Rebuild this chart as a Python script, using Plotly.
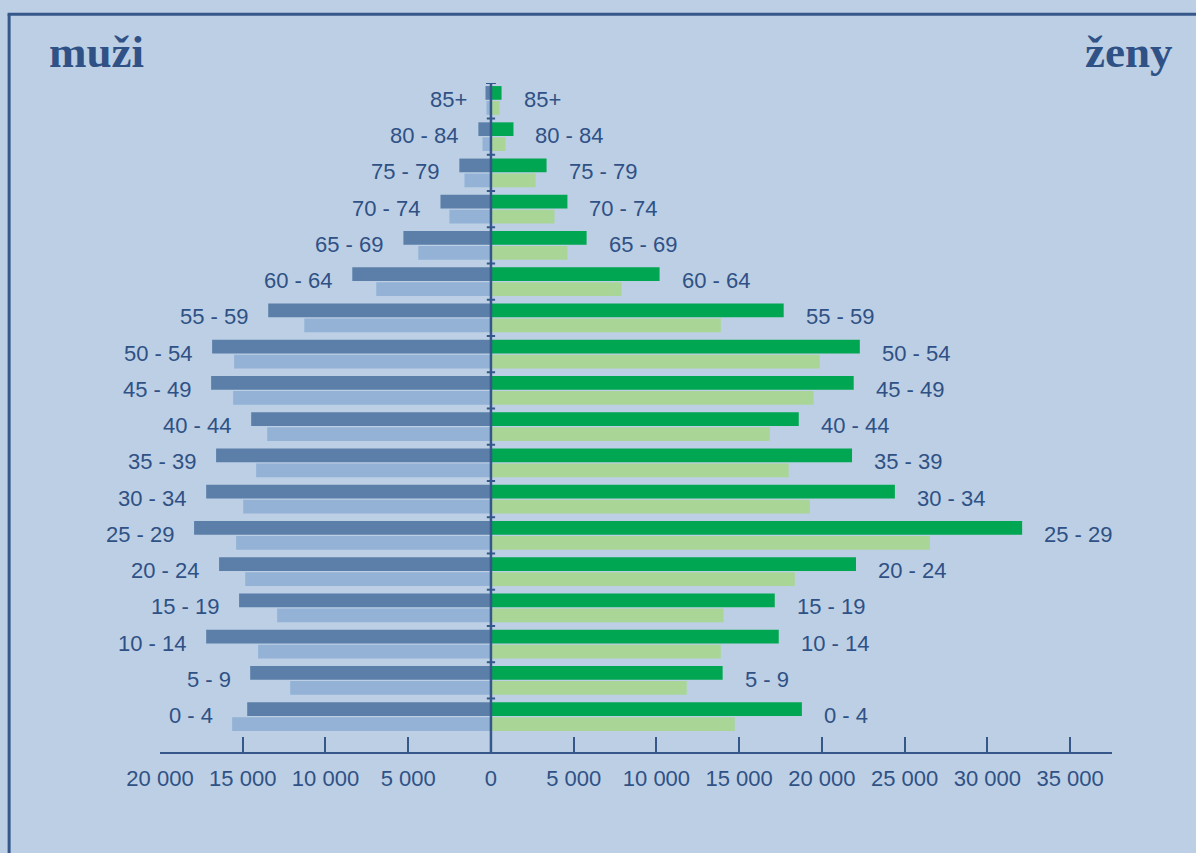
import plotly.graph_objects as go

# ---- data (top to bottom as in the picture) ----
ages = ["85+", "80 - 84", "75 - 79", "70 - 74", "65 - 69", "60 - 64", "55 - 59",
        "50 - 54", "45 - 49", "40 - 44", "35 - 39", "30 - 34", "25 - 29",
        "20 - 24", "15 - 19", "10 - 14", "5 - 9", "0 - 4"]
men_dark = [330, 760, 1910, 3050, 5290, 8380, 13460, 16850, 16910, 14490,
            16610, 17210, 17940, 16430, 15220, 17210, 14550, 14730]
men_light = [270, 510, 1600, 2510, 4390, 6930, 11280, 15520, 15580, 13520,
             14190, 14970, 15400, 14850, 12920, 14070, 12130, 15640]
women_dark = [640, 1360, 3360, 4620, 5780, 10190, 17690, 22290, 21920, 18600,
              21820, 24410, 32100, 22060, 17150, 17390, 14000, 18790]
women_light = [520, 880, 2700, 3840, 4620, 7900, 13890, 19870, 19500, 16850,
               17990, 19270, 26530, 18360, 14060, 13890, 11830, 14730]
tick_vals = [-20000, -15000, -10000, -5000, 0, 5000, 10000, 15000, 20000,
             25000, 30000, 35000]
tick_text = ["20 000", "15 000", "10 000", "5 000", "0", "5 000", "10 000",
             "15 000", "20 000", "25 000", "30 000", "35 000"]
title_left = "muži"
title_right = "ženy"

# ---- styles ----
BG = "#BCCFE4"
TXT = "#2F5185"
LINE = "#36578A"
C_MD = "#5B7FA9"
C_ML = "#93B2D6"
C_WD = "#00A651"
C_WL = "#A9D697"
FONT = "Liberation Sans, Arial, sans-serif"

W, H = 1196, 853
ML, MR, MT, MB = 160.3, 84.2, 82.7, 101.3
PW = W - ML - MR
PH = H - MT - MB

BW = 0.378
OFF_D = 0.017
OFF_L = -0.397

fig = go.Figure()
fig.add_trace(go.Bar(y=ages, x=[-v for v in men_light], orientation="h",
                     marker=dict(color=C_ML, line=dict(width=0)),
                     width=BW, offset=OFF_L, name="muži 2"))
fig.add_trace(go.Bar(y=ages, x=[-v for v in men_dark], orientation="h",
                     marker=dict(color=C_MD, line=dict(width=0)),
                     width=BW, offset=OFF_D, name="muži 1"))
fig.add_trace(go.Bar(y=ages, x=women_light, orientation="h",
                     marker=dict(color=C_WL, line=dict(width=0)),
                     width=BW, offset=OFF_L, name="ženy 2"))
fig.add_trace(go.Bar(y=ages, x=women_dark, orientation="h",
                     marker=dict(color=C_WD, line=dict(width=0)),
                     width=BW, offset=OFF_D, name="ženy 1"))

n = len(ages)
annotations = []
for i, a in enumerate(ages):
    mleft = -max(men_dark[i], men_light[i])
    wright = max(women_dark[i], women_light[i])
    annotations.append(dict(x=mleft, y=a, xref="x", yref="y", text=a,
                            showarrow=False, xanchor="right", yanchor="middle",
                            xshift=-17, yshift=1,
                            font=dict(family=FONT, size=22, color=TXT)))
    annotations.append(dict(x=wright, y=a, xref="x", yref="y", text=a,
                            showarrow=False, xanchor="left", yanchor="middle",
                            xshift=20, yshift=1,
                            font=dict(family=FONT, size=22, color=TXT)))

def px_x(p):
    return (p - ML) / PW

def px_y(p):
    return (H - MB - p) / PH

annotations.append(dict(x=px_x(47), y=px_y(52), xref="paper", yref="paper",
                        text="<b>%s</b>" % title_left, showarrow=False,
                        xanchor="left", yanchor="middle",
                        font=dict(family="Liberation Serif, serif", size=45, color=TXT)))
annotations.append(dict(x=px_x(1175), y=px_y(52), xref="paper", yref="paper",
                        text="<b>%s</b>" % title_right, showarrow=False,
                        xanchor="right", yanchor="middle",
                        font=dict(family="Liberation Serif, serif", size=45, color=TXT)))

shapes = []
# frame (left and top edges only visible)
shapes.append(dict(type="line", xref="paper", yref="paper",
                   x0=px_x(9.5), x1=px_x(9.5), y0=px_y(14), y1=px_y(870),
                   line=dict(color=LINE, width=3)))
shapes.append(dict(type="line", xref="paper", yref="paper",
                   x0=px_x(8), x1=px_x(1210), y0=px_y(14), y1=px_y(14),
                   line=dict(color=LINE, width=3)))
# centre axis line
y_lo, y_hi = -0.977, n - 1 + 0.48
shapes.append(dict(type="line", xref="x", yref="y", x0=0, x1=0,
                   y0=y_lo, y1=y_hi, line=dict(color=LINE, width=2.5),
                   layer="above"))
# small ticks between groups
for k in range(n - 1):
    shapes.append(dict(type="line", xref="x", yref="y", x0=-250, x1=250,
                       y0=k + 0.5, y1=k + 0.5, line=dict(color=LINE, width=2),
                       layer="above"))
shapes.append(dict(type="line", xref="x", yref="y", x0=-300, x1=300,
                   y0=y_hi, y1=y_hi, line=dict(color=LINE, width=2),
                   layer="above"))

fig.update_layout(
    width=W, height=H,
    margin=dict(l=ML, r=MR, t=MT, b=MB, pad=0),
    paper_bgcolor=BG, plot_bgcolor=BG,
    barmode="overlay", showlegend=False,
    annotations=annotations, shapes=shapes,
    font=dict(family=FONT, color=TXT),
    xaxis=dict(range=[-20000, 37530], tickvals=tick_vals, ticktext=tick_text,
               showgrid=False, zeroline=False, showline=True, linecolor=LINE,
               linewidth=2, ticks="inside", ticklen=15, tickwidth=2,
               tickcolor=LINE, ticklabelstandoff=6,
               tickfont=dict(family=FONT, size=22, color=TXT), fixedrange=True),
    yaxis=dict(type="category", categoryorder="array",
               categoryarray=list(reversed(ages)), range=[y_lo, n - 1 + 0.48],
               showgrid=False, zeroline=False, showline=False,
               showticklabels=False, ticks="", fixedrange=True),
)

fig.write_html("out.html", config={"displayModeBar": False},
               post_script="document.body.style.margin='0px';"
                           "document.body.style.background='%s';" % BG)
